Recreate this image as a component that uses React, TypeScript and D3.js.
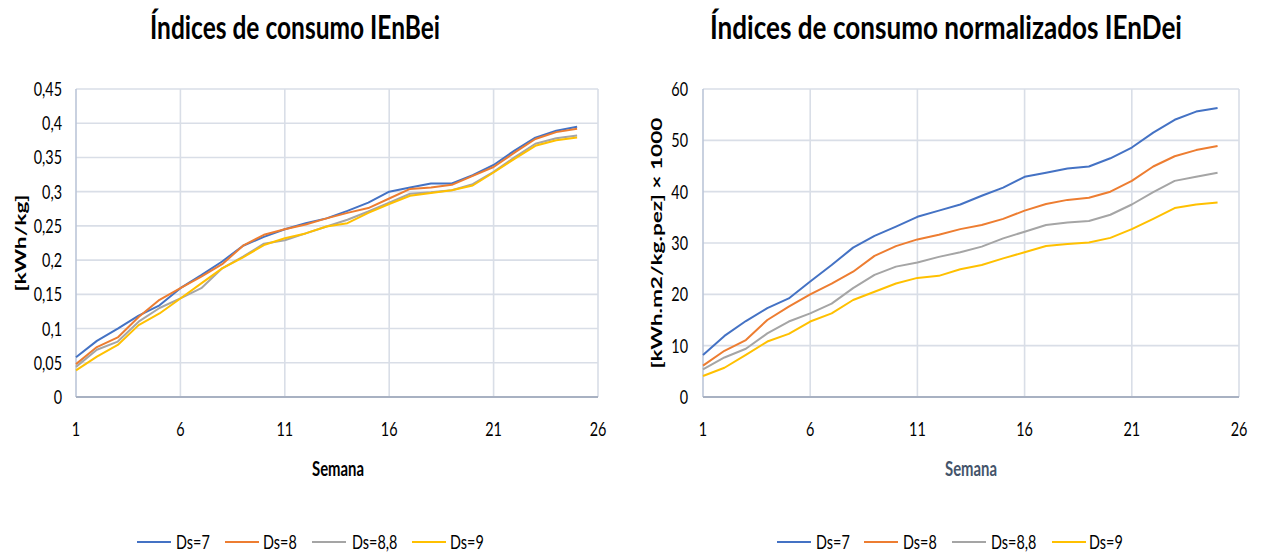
import React from "react";
import * as d3 from "d3";

const weeks = d3.range(1, 26);
const seriesNames = ["Ds=7", "Ds=8", "Ds=8,8", "Ds=9"];
const seriesColors = ["#4472C4", "#ED7D31", "#A5A5A5", "#FFC000"];

// Left chart: IEnBei [kWh/kg]
const bei_ds7 = [0.058, 0.082, 0.100, 0.119, 0.134, 0.159, 0.178, 0.198, 0.221, 0.234, 0.245, 0.254, 0.261, 0.272, 0.284, 0.300, 0.306, 0.312, 0.312, 0.324, 0.339, 0.360, 0.379, 0.389, 0.395];
const bei_ds8 = [0.048, 0.073, 0.087, 0.117, 0.142, 0.159, 0.176, 0.194, 0.221, 0.237, 0.245, 0.252, 0.261, 0.269, 0.276, 0.290, 0.304, 0.306, 0.310, 0.323, 0.336, 0.357, 0.377, 0.387, 0.392];
const bei_ds88 = [0.044, 0.069, 0.081, 0.110, 0.130, 0.144, 0.159, 0.188, 0.205, 0.224, 0.229, 0.239, 0.249, 0.259, 0.271, 0.284, 0.297, 0.299, 0.302, 0.311, 0.329, 0.350, 0.370, 0.378, 0.382];
const bei_ds9 = [0.039, 0.059, 0.076, 0.105, 0.122, 0.144, 0.166, 0.188, 0.204, 0.222, 0.232, 0.239, 0.249, 0.254, 0.269, 0.282, 0.294, 0.298, 0.302, 0.309, 0.328, 0.348, 0.367, 0.375, 0.379];

// Right chart: IEnDei [kWh.m2/kg.pez] x 1000
const dei_ds7 = [8.2, 11.9, 14.8, 17.3, 19.2, 22.5, 25.7, 29.1, 31.4, 33.2, 35.1, 36.3, 37.5, 39.2, 40.8, 42.9, 43.7, 44.5, 44.9, 46.5, 48.6, 51.5, 54.0, 55.6, 56.3];
const dei_ds8 = [6.1, 9.0, 11.1, 15.0, 17.6, 20.0, 22.1, 24.4, 27.5, 29.4, 30.7, 31.6, 32.7, 33.5, 34.7, 36.3, 37.6, 38.4, 38.8, 40.0, 42.1, 44.9, 46.9, 48.1, 48.9];
const dei_ds88 = [5.4, 7.7, 9.4, 12.4, 14.7, 16.3, 18.2, 21.2, 23.8, 25.4, 26.2, 27.3, 28.2, 29.3, 30.9, 32.2, 33.5, 34.0, 34.3, 35.5, 37.5, 39.9, 42.1, 42.9, 43.7];
const dei_ds9 = [4.1, 5.7, 8.2, 10.8, 12.3, 14.7, 16.3, 18.9, 20.5, 22.1, 23.2, 23.6, 24.9, 25.7, 27.0, 28.2, 29.4, 29.8, 30.1, 31.0, 32.7, 34.7, 36.8, 37.5, 37.9];

const xTicks = [1, 6, 11, 16, 21, 26];
const beiTicks = [0, 0.05, 0.1, 0.15, 0.2, 0.25, 0.3, 0.35, 0.4, 0.45];
const beiTickLabels = ["0", "0,05", "0,1", "0,15", "0,2", "0,25", "0,3", "0,35", "0,4", "0,45"];
const deiTicks = [0, 10, 20, 30, 40, 50, 60];
const deiTickLabels = ["0", "10", "20", "30", "40", "50", "60"];

const FONT = "Lato, 'Open Sans', 'Liberation Sans', sans-serif";
const SX = 0.72;

function Squeezed({ x, y, anchor, size, weight, fill, children, sx = SX }: any) {
  return (
    <text
      transform={`translate(${x},${y}) scale(${sx},1)`}
      textAnchor={anchor}
      fontSize={size}
      fontWeight={weight}
      fill={fill || "#000"}
      fontFamily={FONT}
    >
      {children}
    </text>
  );
}

function Chart({ cfg }: any) {
  const x = d3.scaleLinear().domain([1, 26]).range([cfg.x0, cfg.x1]);
  const y = d3.scaleLinear().domain([0, cfg.yMax]).range([397, 89]);
  const line = d3
    .line<number>()
    .x((_, i) => x(weeks[i]))
    .y((d) => y(d));
  return (
    <g>
      <text
        x={cfg.titleX}
        y={39}
        textAnchor="middle"
        fontSize={32}
        fontWeight="bold"
        fontFamily={FONT}
        textLength={cfg.titleW}
        lengthAdjust="spacingAndGlyphs"
      >
        {cfg.title}
      </text>
      {cfg.yTicks.map((t: number, i: number) =>
        i === 0 ? null : (
          <line key={"h" + i} x1={cfg.x0} x2={cfg.x1} y1={y(t)} y2={y(t)} stroke="#D9DEE7" strokeWidth={1.6} />
        )
      )}
      {xTicks.map((t, i) =>
        i === 0 ? null : (
          <line key={"v" + i} x1={x(t)} x2={x(t)} y1={y(cfg.yMax)} y2={y(0)} stroke="#D9DEE7" strokeWidth={1.6} />
        )
      )}
      <line x1={cfg.x0} x2={cfg.x0} y1={y(cfg.yMax)} y2={y(0)} stroke="#BCC6D8" strokeWidth={1.6} />
      <line x1={cfg.x0} x2={cfg.x1} y1={y(0)} y2={y(0)} stroke="#A8B1C2" strokeWidth={2} />
      {cfg.yTicks.map((t: number, i: number) => (
        <Squeezed key={"yl" + i} x={cfg.yLabelX} y={y(t) + 7} anchor="end" size={20}>
          {cfg.yTickLabels[i]}
        </Squeezed>
      ))}
      {xTicks.map((t, i) => (
        <Squeezed key={"xl" + i} x={x(t)} y={436} anchor="middle" size={20}>
          {String(t)}
        </Squeezed>
      ))}
      {cfg.series.map((s: number[], i: number) => (
        <path key={"s" + i} d={line(s) || ""} fill="none" stroke={seriesColors[i]} strokeWidth={2} strokeLinejoin="round" />
      ))}
      <text
        transform={`translate(${cfg.yTitleX},${cfg.yTitleY}) rotate(-90)`}
        textAnchor="middle"
        fontSize={15}
        fontWeight="bold"
        fontFamily={FONT}
        textLength={cfg.yTitleW}
        lengthAdjust="spacingAndGlyphs"
      >
        {cfg.yTitle}
      </text>
      <text
        x={cfg.xTitleX}
        y={476}
        textAnchor="middle"
        fontSize={21}
        fontWeight="bold"
        fontFamily={FONT}
        fill={cfg.xTitleColor}
        textLength={52}
        lengthAdjust="spacingAndGlyphs"
      >
        Semana
      </text>
      {seriesNames.map((n, i) => (
        <g key={"lg" + i}>
          <line x1={cfg.legend[i][0]} x2={cfg.legend[i][0] + 34} y1={542} y2={542} stroke={seriesColors[i]} strokeWidth={2} />
          <Squeezed x={cfg.legend[i][1]} y={549} anchor="start" size={20}>
            {n}
          </Squeezed>
        </g>
      ))}
    </g>
  );
}

const leftCfg = {
  title: "Índices de consumo IEnBei",
  titleX: 295,
  titleW: 290,
  x0: 76,
  x1: 598,
  yMax: 0.45,
  yTicks: beiTicks,
  yTickLabels: beiTickLabels,
  yLabelX: 62,
  series: [bei_ds7, bei_ds8, bei_ds88, bei_ds9],
  yTitle: "[kWh/kg]",
  yTitleX: 26,
  yTitleY: 243,
  yTitleW: 97,
  xTitleX: 338,
  xTitleColor: "#000",
  legend: [
    [137, 176],
    [225, 263],
    [312, 352],
    [412, 450],
  ],
};

const rightCfg = {
  title: "Índices de consumo normalizados IEnDei",
  titleX: 946,
  titleW: 472,
  x0: 703,
  x1: 1239,
  yMax: 60,
  yTicks: deiTicks,
  yTickLabels: deiTickLabels,
  yLabelX: 688,
  series: [dei_ds7, dei_ds8, dei_ds88, dei_ds9],
  yTitle: "[kWh.m2/kg.pez] × 1000",
  yTitleX: 662,
  yTitleY: 243,
  yTitleW: 251,
  xTitleX: 971,
  xTitleColor: "#44546A",
  legend: [
    [777, 816],
    [864, 903],
    [952, 991],
    [1052, 1089],
  ],
};

export default function App() {
  return (
    <svg width={1261} height={554} style={{ position: "absolute", left: 0, top: 0, background: "#fff" }}>
      <rect width={1261} height={554} fill="#fff" />
      <Chart cfg={leftCfg} />
      <Chart cfg={rightCfg} />
    </svg>
  );
}
